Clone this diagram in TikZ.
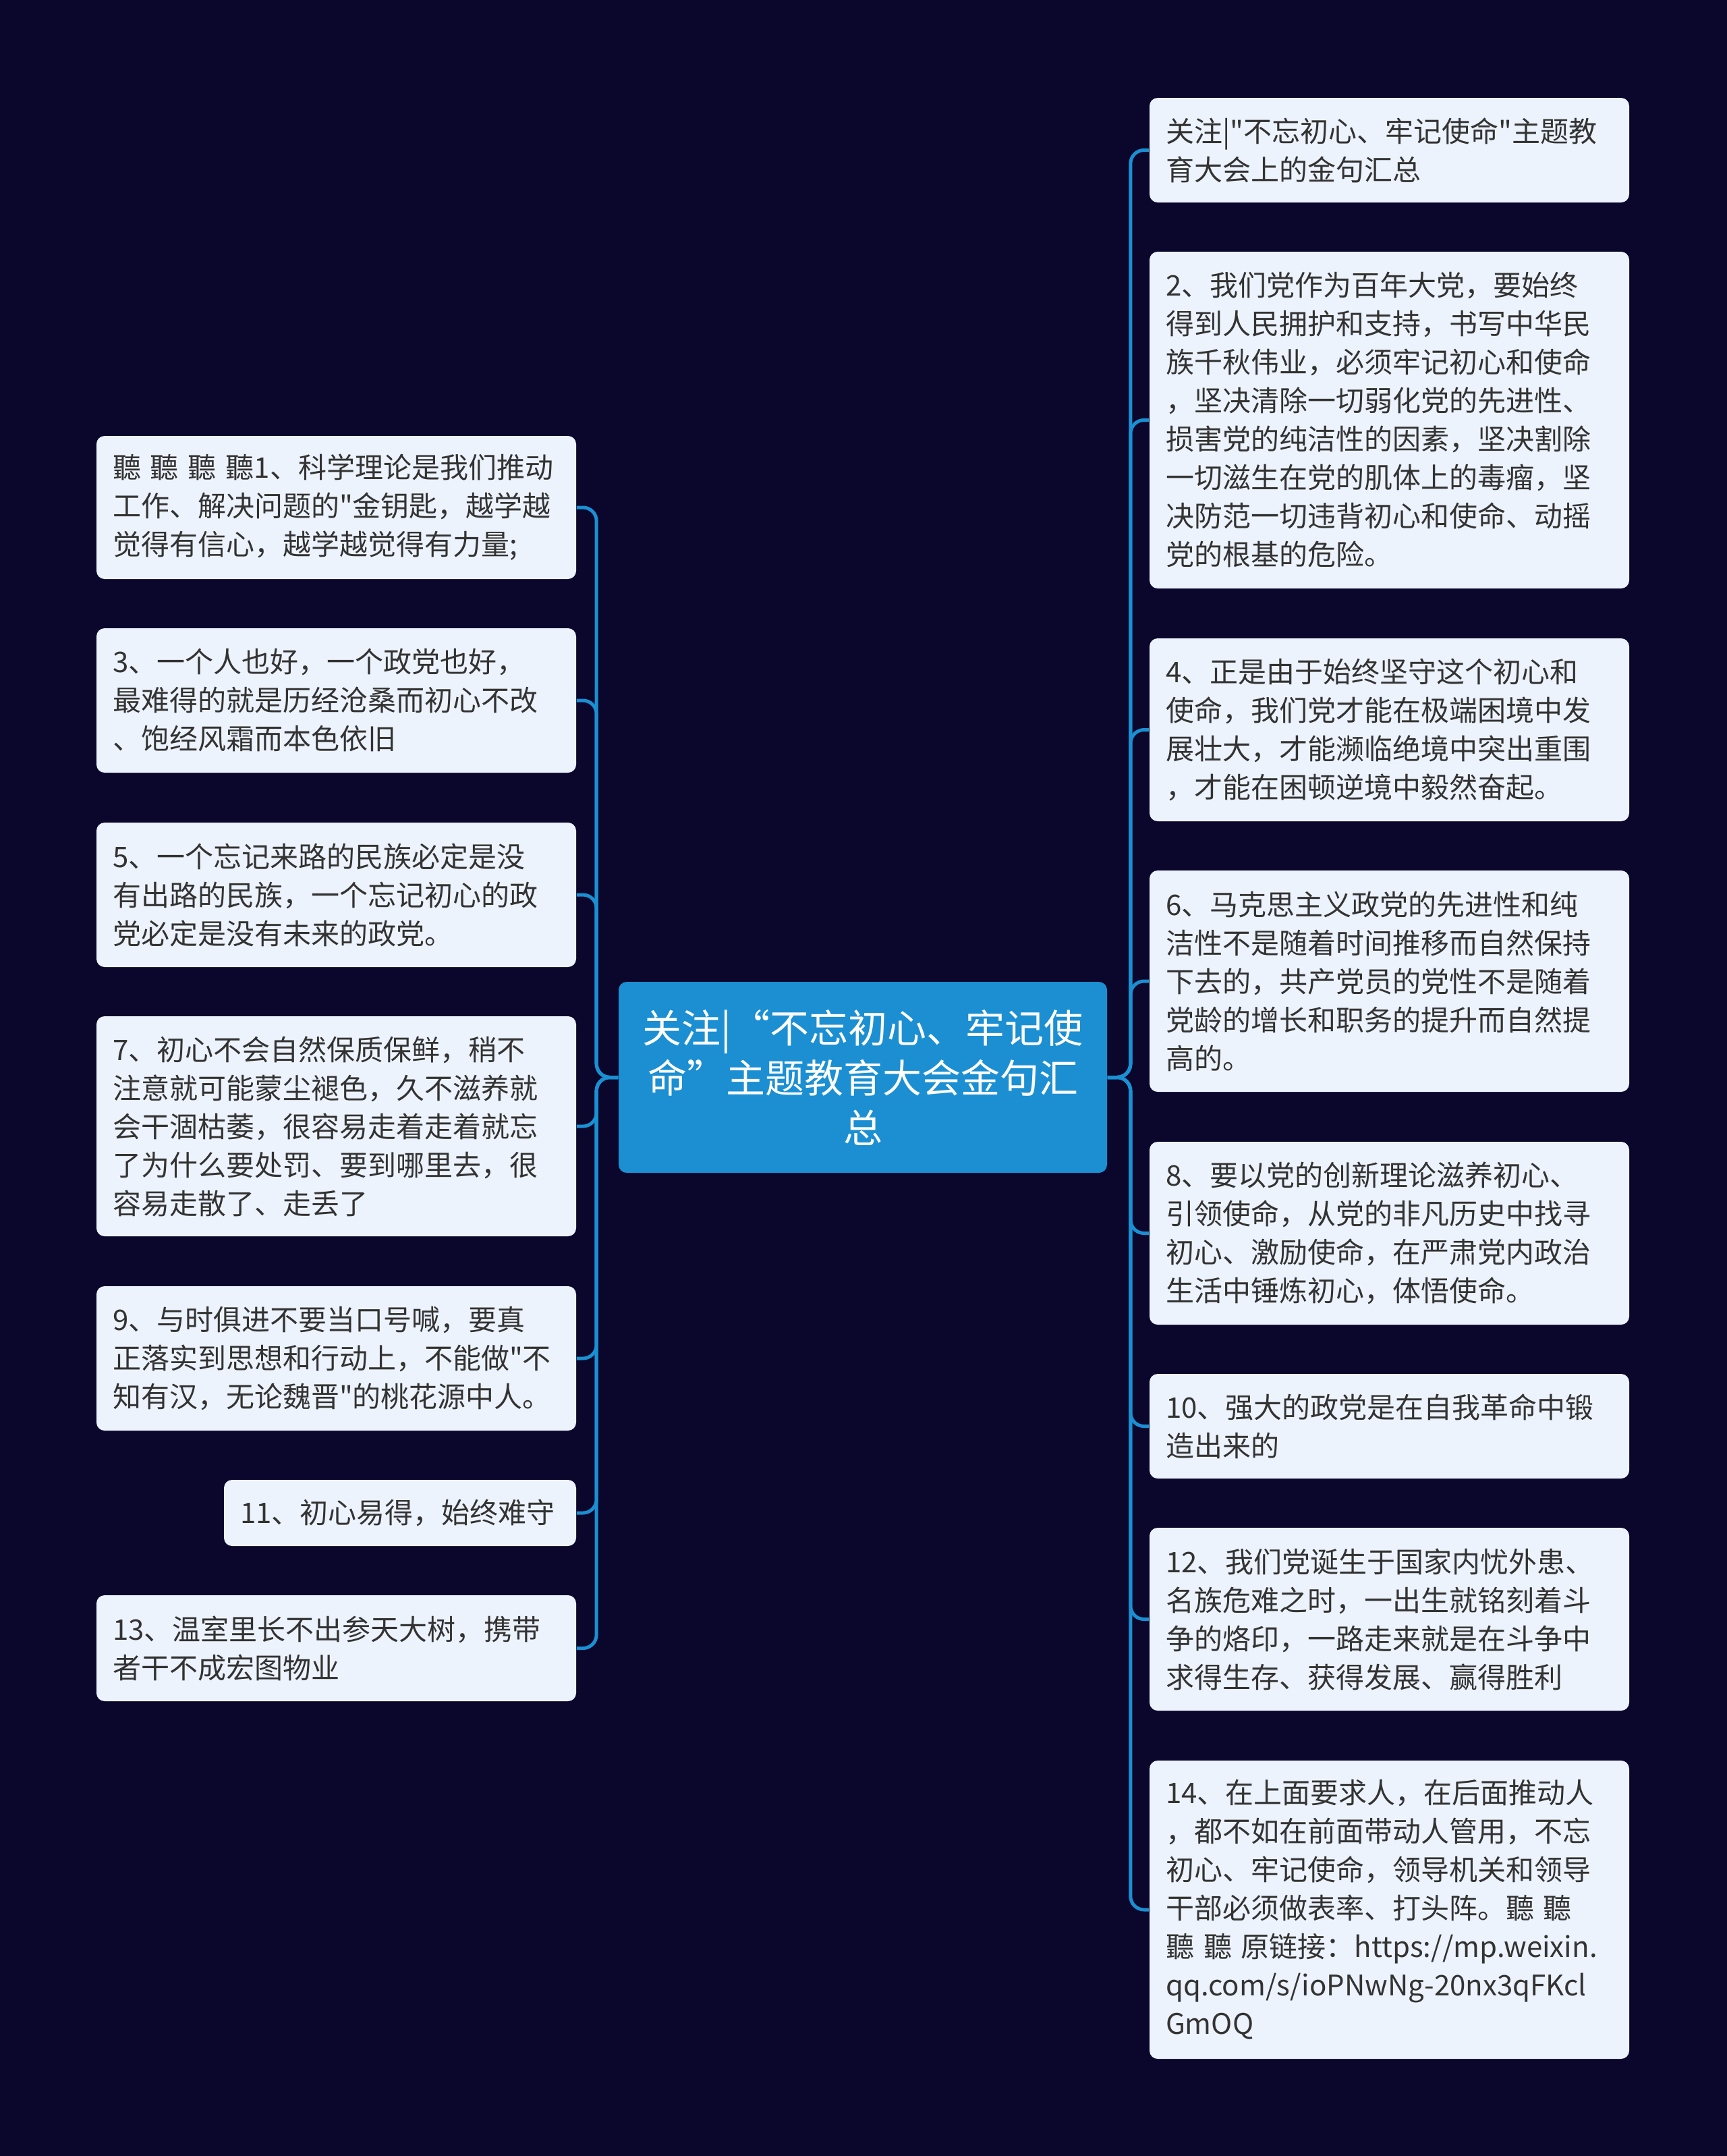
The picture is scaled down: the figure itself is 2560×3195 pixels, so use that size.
\documentclass[tikz,border=0pt]{standalone}
\usepackage{fontspec}
\newfontfamily\cjkfont{Noto Sans CJK SC}
\definecolor{bgcol}{RGB}{11,7,44}
\definecolor{linecol}{RGB}{26,144,210}
\definecolor{rootfill}{RGB}{27,143,210}
\definecolor{leaffill}{RGB}{237,243,252}
\definecolor{leaftext}{RGB}{51,51,51}
\tikzset{
  leaf/.style={fill=leaffill, rounded corners=3pt, text=leaftext, align=left,
    inner xsep=6pt, inner ysep=0pt, font=\cjkfont\fontsize{10.5}{14.25}\selectfont},
  wideleaf/.style={leaf, text width=165.75pt},
  rootbox/.style={fill=rootfill, rounded corners=3pt, text=white, align=center,
    inner xsep=8pt, inner ysep=0pt, text width=165pt, minimum height=70.75pt,
    font=\cjkfont\fontsize{14.5}{18.5}\selectfont},
  link/.style={draw=linecol, line width=1.25pt, rounded corners=5pt},
}
\begin{document}
\begin{tikzpicture}[x=0.25pt, y=-0.25pt]
\useasboundingbox (0,0) rectangle (2560,3195);
\fill[bgcol] (0,0) rectangle (2560,3195);

\node[rootbox] (root) at (1279,1596.5) {关注|“不忘初心、牢记使\\命”主题教育大会金句汇\\总};

% right side
\node[wideleaf, minimum height=38.75pt] (r1) at (2059.5,222.5) {关注|"不忘初心、牢记使命"主题教\\育大会上的金句汇总};
\node[wideleaf, minimum height=124.75pt] (r2) at (2059.5,622.5) {2、我们党作为百年大党，要始终\\得到人民拥护和支持，书写中华民\\族千秋伟业，必须牢记初心和使命\\，坚决清除一切弱化党的先进性、\\损害党的纯洁性的因素，坚决割除\\一切滋生在党的肌体上的毒瘤，坚\\决防范一切违背初心和使命、动摇\\党的根基的危险。};
\node[wideleaf, minimum height=67.75pt] (r4) at (2059.5,1081.5) {4、正是由于始终坚守这个初心和\\使命，我们党才能在极端困境中发\\展壮大，才能濒临绝境中突出重围\\，才能在困顿逆境中毅然奋起。};
\node[wideleaf, minimum height=82pt] (r6) at (2059.5,1454) {6、马克思主义政党的先进性和纯\\洁性不是随着时间推移而自然保持\\下去的，共产党员的党性不是随着\\党龄的增长和职务的提升而自然提\\高的。};
\node[wideleaf, minimum height=67.75pt] (r8) at (2059.5,1827.5) {8、要以党的创新理论滋养初心、\\引领使命，从党的非凡历史中找寻\\初心、激励使命，在严肃党内政治\\生活中锤炼初心，体悟使命。};
\node[wideleaf, minimum height=38.75pt] (r10) at (2059.5,2113.5) {10、强大的政党是在自我革命中锻\\造出来的};
\node[wideleaf, minimum height=67.75pt] (r12) at (2059.5,2399.5) {12、我们党诞生于国家内忧外患、\\名族危难之时，一出生就铭刻着斗\\争的烙印，一路走来就是在斗争中\\求得生存、获得发展、赢得胜利};
\node[wideleaf, minimum height=110.5pt] (r14) at (2059.5,2830) {14、在上面要求人，在后面推动人\\，都不如在前面带动人管用，不忘\\初心、牢记使命，领导机关和领导\\干部必须做表率、打头阵。聽 聽\\聽 聽 原链接：https://mp.weixin.\\qq.com/s/ioPNwNg-20nx3qFKcl\\GmOQ};

% left side
\node[wideleaf, minimum height=53pt] (l1) at (498.5,752) {聽 聽 聽 聽1、科学理论是我们推动\\工作、解决问题的"金钥匙，越学越\\觉得有信心，越学越觉得有力量;};
\node[wideleaf, minimum height=53.5pt] (l3) at (498.5,1038) {3、一个人也好，一个政党也好，\\最难得的就是历经沧桑而初心不改\\、饱经风霜而本色依旧};
\node[wideleaf, minimum height=53.5pt] (l5) at (498.5,1326) {5、一个忘记来路的民族必定是没\\有出路的民族，一个忘记初心的政\\党必定是没有未来的政党。};
\node[wideleaf, minimum height=81.5pt] (l7) at (498.5,1669) {7、初心不会自然保质保鲜，稍不\\注意就可能蒙尘褪色，久不滋养就\\会干涸枯萎，很容易走着走着就忘\\了为什么要处罚、要到哪里去，很\\容易走散了、走丢了};
\node[wideleaf, minimum height=53.5pt] (l9) at (498.5,2013) {9、与时俱进不要当口号喊，要真\\正落实到思想和行动上，不能做"不\\知有汉，无论魏晋"的桃花源中人。};
\node[leaf, text width=118.5pt, minimum height=24.5pt] (l11) at (593,2242) {11、初心易得，始终难守};
\node[wideleaf, minimum height=39.25pt] (l13) at (498.5,2442.5) {13、温室里长不出参天大树，携带\\者干不成宏图物业};

% connectors
\foreach \n in {r1,r2,r4,r6,r8,r10,r12,r14}
  \draw[link] (root.east) -- ++(34,0) |- (\n.west);
\foreach \n in {l1,l3,l5,l7,l9,l11,l13}
  \draw[link] (root.west) -- ++(-32,0) |- (\n.east);
\end{tikzpicture}
\end{document}
